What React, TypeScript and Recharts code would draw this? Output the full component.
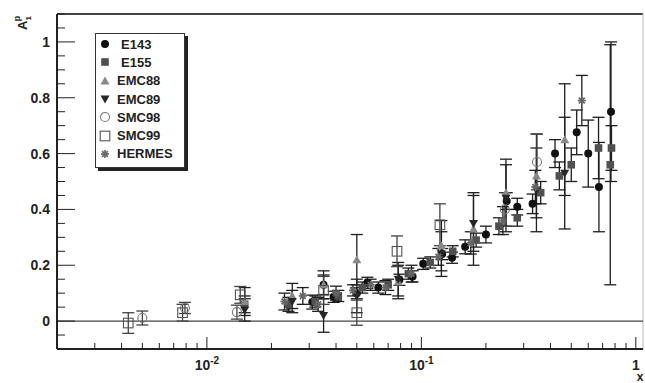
import React from 'react';
import { ScatterChart, Scatter, XAxis, YAxis, ErrorBar, ReferenceLine } from 'recharts';

// A1 proton asymmetry: x, value, error
const e143 = [
  { x: 0.031, y: 0.068, err: 0.025 },
  { x: 0.035, y: 0.13, err: 0.035 },
  { x: 0.039, y: 0.087, err: 0.02 },
  { x: 0.05, y: 0.1, err: 0.02 },
  { x: 0.056, y: 0.137, err: 0.02 },
  { x: 0.063, y: 0.12, err: 0.02 },
  { x: 0.079, y: 0.148, err: 0.02 },
  { x: 0.091, y: 0.16, err: 0.02 },
  { x: 0.102, y: 0.205, err: 0.02 },
  { x: 0.125, y: 0.24, err: 0.02 },
  { x: 0.139, y: 0.227, err: 0.02 },
  { x: 0.16, y: 0.266, err: 0.025 },
  { x: 0.2, y: 0.31, err: 0.03 },
  { x: 0.25, y: 0.43, err: 0.03 },
  { x: 0.28, y: 0.41, err: 0.03 },
  { x: 0.33, y: 0.42, err: 0.035 },
  { x: 0.42, y: 0.6, err: 0.05 },
  { x: 0.53, y: 0.676, err: 0.08 },
  { x: 0.6, y: 0.6, err: 0.12 },
  { x: 0.673, y: 0.48, err: 0.16 },
  { x: 0.766, y: 0.75, err: 0.25 },
];

const e155 = [
  { x: 0.015, y: 0.06, err: 0.03 },
  { x: 0.024, y: 0.06, err: 0.025 },
  { x: 0.032, y: 0.07, err: 0.02 },
  { x: 0.041, y: 0.09, err: 0.02 },
  { x: 0.053, y: 0.12, err: 0.02 },
  { x: 0.07, y: 0.13, err: 0.02 },
  { x: 0.087, y: 0.17, err: 0.02 },
  { x: 0.11, y: 0.21, err: 0.02 },
  { x: 0.14, y: 0.25, err: 0.02 },
  { x: 0.18, y: 0.29, err: 0.025 },
  { x: 0.23, y: 0.34, err: 0.03 },
  { x: 0.28, y: 0.37, err: 0.03 },
  { x: 0.36, y: 0.46, err: 0.04 },
  { x: 0.44, y: 0.52, err: 0.05 },
  { x: 0.5, y: 0.56, err: 0.06 },
  { x: 0.67, y: 0.62, err: 0.11 },
  { x: 0.76, y: 0.56, err: 0.43 },
  { x: 0.77, y: 0.62, err: 0.08 },
];

const emc88 = [
  { x: 0.015, y: 0.07, err: 0.05 },
  { x: 0.025, y: 0.09, err: 0.045 },
  { x: 0.035, y: 0.13, err: 0.05 },
  { x: 0.05, y: 0.22, err: 0.09 },
  { x: 0.078, y: 0.14, err: 0.06 },
  { x: 0.124, y: 0.27, err: 0.09 },
  { x: 0.175, y: 0.33, err: 0.13 },
  { x: 0.248, y: 0.46, err: 0.12 },
  { x: 0.344, y: 0.52, err: 0.15 },
  { x: 0.466, y: 0.65, err: 0.2 },
];

const emc89 = [
  { x: 0.015, y: 0.04, err: 0.04 },
  { x: 0.025, y: 0.07, err: 0.04 },
  { x: 0.035, y: 0.02, err: 0.06 },
  { x: 0.05, y: 0.09, err: 0.06 },
  { x: 0.078, y: 0.15, err: 0.06 },
  { x: 0.124, y: 0.24, err: 0.08 },
  { x: 0.175, y: 0.35, err: 0.1 },
  { x: 0.248, y: 0.44, err: 0.12 },
  { x: 0.344, y: 0.47, err: 0.15 },
  { x: 0.466, y: 0.53, err: 0.2 },
];

const smc98 = [
  { x: 0.005, y: 0.011, err: 0.025 },
  { x: 0.0079, y: 0.047, err: 0.02 },
  { x: 0.0138, y: 0.032, err: 0.025 },
  { x: 0.245, y: 0.4, err: 0.06 },
  { x: 0.346, y: 0.57, err: 0.1 },
];

const smc99 = [
  { x: 0.0043, y: -0.007, err: 0.037 },
  { x: 0.0077, y: 0.03, err: 0.03 },
  { x: 0.0143, y: 0.094, err: 0.03 },
  { x: 0.035, y: 0.11, err: 0.05 },
  { x: 0.05, y: 0.03, err: 0.045 },
  { x: 0.077, y: 0.25, err: 0.055 },
  { x: 0.122, y: 0.345, err: 0.075 },
];

const hermes = [
  { x: 0.023, y: 0.07, err: 0.03 },
  { x: 0.028, y: 0.09, err: 0.03 },
  { x: 0.033, y: 0.06, err: 0.025 },
  { x: 0.04, y: 0.1, err: 0.025 },
  { x: 0.048, y: 0.11, err: 0.02 },
  { x: 0.058, y: 0.13, err: 0.02 },
  { x: 0.068, y: 0.12, err: 0.025 },
  { x: 0.09, y: 0.17, err: 0.03 },
  { x: 0.12, y: 0.23, err: 0.03 },
  { x: 0.17, y: 0.28, err: 0.04 },
  { x: 0.24, y: 0.36, err: 0.05 },
  { x: 0.34, y: 0.48, err: 0.06 },
  { x: 0.56, y: 0.79, err: 0.09 },
];

const xTicks = [
  0.002, 0.003, 0.004, 0.005, 0.006, 0.007, 0.008, 0.009,
  0.01, 0.02, 0.03, 0.04, 0.05, 0.06, 0.07, 0.08, 0.09,
  0.1, 0.2, 0.3, 0.4, 0.5, 0.6, 0.7, 0.8, 0.9, 1,
];
const xMajor = [0.01, 0.1, 1];
const xLabels: Record<string, string[]> = { '0.01': ['10', '-2'], '0.1': ['10', '-1'], '1': ['1', ''] };

const yTicks = [
  -0.1, -0.05, 0, 0.05, 0.1, 0.15, 0.2, 0.25, 0.3, 0.35, 0.4, 0.45, 0.5,
  0.55, 0.6, 0.65, 0.7, 0.75, 0.8, 0.85, 0.9, 0.95, 1, 1.05, 1.1,
];
const yMajor = [0, 0.2, 0.4, 0.6, 0.8, 1];

const FONT = '"Liberation Sans", Arial, sans-serif';
const INK = '#222';

type Kind = 'circle' | 'square' | 'up' | 'down' | 'ocircle' | 'osquare' | 'star';

const series: { name: string; data: typeof e143; kind: Kind; color: string; indent: number }[] = [
  { name: 'E143', data: e143, kind: 'circle', color: '#111', indent: 5 },
  { name: 'E155', data: e155, kind: 'square', color: '#505050', indent: 5 },
  { name: 'EMC88', data: emc88, kind: 'up', color: '#888', indent: 1 },
  { name: 'EMC89', data: emc89, kind: 'down', color: '#262626', indent: 1 },
  { name: 'SMC98', data: smc98, kind: 'ocircle', color: '#777', indent: 1 },
  { name: 'SMC99', data: smc99, kind: 'osquare', color: '#555', indent: 1 },
  { name: 'HERMES', data: hermes, kind: 'star', color: '#666', indent: 1 },
];

function Marker({ kind, color, cx, cy }: { kind: Kind; color: string; cx: number; cy: number }) {
  switch (kind) {
    case 'circle':
      return <circle cx={cx} cy={cy} r={4} fill={color} />;
    case 'square':
      return <rect x={cx - 3.8} y={cy - 3.8} width={7.6} height={7.6} fill={color} />;
    case 'up':
      return <polygon points={`${cx},${cy - 4.5} ${cx - 4.5},${cy + 3.5} ${cx + 4.5},${cy + 3.5}`} fill={color} />;
    case 'down':
      return <polygon points={`${cx},${cy + 4.5} ${cx - 4.5},${cy - 3.5} ${cx + 4.5},${cy - 3.5}`} fill={color} />;
    case 'ocircle':
      return <circle cx={cx} cy={cy} r={4.5} fill="none" stroke={color} strokeWidth={1.1} />;
    case 'osquare':
      return <rect x={cx - 4.8} y={cy - 4.8} width={9.6} height={9.6} fill="none" stroke={color} strokeWidth={1.1} />;
    case 'star':
      return (
        <g stroke={color} strokeWidth={1.7}>
          <line x1={cx - 4} y1={cy} x2={cx + 4} y2={cy} />
          <line x1={cx} y1={cy - 4} x2={cx} y2={cy + 4} />
          <line x1={cx - 2.9} y1={cy - 2.9} x2={cx + 2.9} y2={cy + 2.9} />
          <line x1={cx - 2.9} y1={cy + 2.9} x2={cx + 2.9} y2={cy - 2.9} />
        </g>
      );
  }
  return null;
}

const XTick = (props: any) => {
  const { x, y, payload } = props;
  const major = xMajor.includes(payload.value);
  const lab = xLabels[String(payload.value)];
  return (
    <g>
      <line x1={x} x2={x} y1={y} y2={y - (major ? 12 : 6)} stroke={INK} strokeWidth={1} />
      {major && lab && (
        <text x={x} y={y + 21} textAnchor="middle" fontFamily={FONT} fontWeight="bold" fontSize={14} fill={INK}>
          <tspan>{lab[0]}</tspan>
          {lab[1] && <tspan dy={-6} fontSize={10}>{lab[1]}</tspan>}
        </text>
      )}
    </g>
  );
};

const YTick = (props: any) => {
  const { x, y, payload } = props;
  const major = yMajor.includes(payload.value);
  return (
    <g>
      <line x1={x} x2={x + (major ? 18 : 8)} y1={y} y2={y} stroke={INK} strokeWidth={1} />
      {major && (
        <text x={x - 7} y={y + 5} textAnchor="end" fontFamily={FONT} fontWeight="bold" fontSize={14} fill={INK}>
          {payload.value}
        </text>
      )}
    </g>
  );
};

export default function App() {
  return (
    <div style={{ position: 'absolute', left: 0, top: 0, width: 645, height: 383, background: '#fff' }}>
      <ScatterChart width={645} height={383} margin={{ top: 14, right: 2, bottom: 0, left: 0 }}>
        <XAxis
          dataKey="x"
          type="number"
          scale="log"
          domain={[0.002, 1.08]}
          allowDataOverflow
          ticks={xTicks}
          interval={0}
          tick={<XTick />}
          tickLine={false}
          tickSize={0}
          tickMargin={0}
          height={34}
          axisLine={{ stroke: INK, strokeWidth: 2 }}
        />
        <YAxis
          dataKey="y"
          type="number"
          domain={[-0.1, 1.1]}
          allowDataOverflow
          ticks={yTicks}
          interval={0}
          tick={<YTick />}
          tickLine={false}
          tickSize={0}
          tickMargin={0}
          width={57}
          axisLine={{ stroke: INK, strokeWidth: 2 }}
        />
        <ReferenceLine y={1.1} stroke="#444" strokeWidth={2} />
        <ReferenceLine x={1.08} stroke="#bbb" strokeWidth={1} />
        <ReferenceLine y={0} stroke="#444" strokeWidth={1.4} />
        {series.map((s) => (
          <Scatter
            key={s.name}
            name={s.name}
            data={s.data}
            isAnimationActive={false}
            shape={(p: any) => <Marker kind={s.kind} color={s.color} cx={p.cx} cy={p.cy} />}
          >
            <ErrorBar
              dataKey="err"
              direction="y"
              width={6}
              stroke={s.kind === 'ocircle' || s.kind === 'osquare' ? '#444' : '#1e1e1e'}
              strokeWidth={1.3}
              isAnimationActive={false}
            />
          </Scatter>
        ))}
      </ScatterChart>

      <svg width={645} height={383} style={{ position: 'absolute', left: 0, top: 0, pointerEvents: 'none' }}>
        <text
          x={27}
          y={30}
          transform="rotate(-90 27 30)"
          fontFamily={FONT}
          fontWeight="bold"
          fontSize={13}
          fill={INK}
        >
          <tspan>A</tspan>
          <tspan dy={4} fontSize={8}>1</tspan>
          <tspan dx={-5} dy={-11} fontSize={9}>p</tspan>
        </text>
        <text x={640} y={381} textAnchor="middle" fontFamily={FONT} fontWeight="bold" fontSize={12} fill={INK}>
          x
        </text>
      </svg>

      <div
        style={{
          position: 'absolute',
          left: 95,
          top: 33,
          width: 90,
          height: 135,
          border: '1px solid #333',
          boxShadow: '3px 3px 0 #222',
          background: '#fff',
          paddingTop: 1,
          boxSizing: 'border-box',
          fontFamily: FONT,
          fontWeight: 'bold',
          fontSize: 13,
          color: INK,
        }}
      >
        {series.map((s) => (
          <div key={s.name} style={{ display: 'flex', alignItems: 'center', height: 18.3 }}>
            <svg width={20} height={12} style={{ flex: 'none' }}>
              <Marker kind={s.kind} color={s.color} cx={9} cy={6} />
            </svg>
            <span style={{ marginLeft: s.indent }}>{s.name}</span>
          </div>
        ))}
      </div>
    </div>
  );
}
